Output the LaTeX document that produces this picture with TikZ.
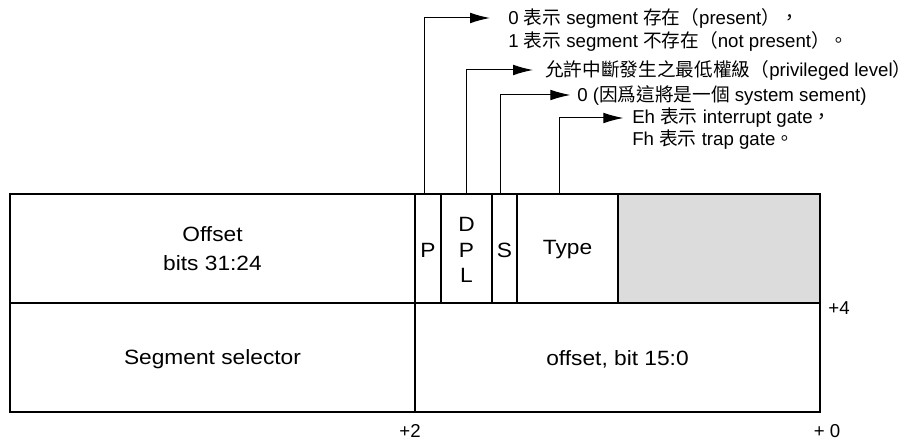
\documentclass[tikz,border=0pt]{standalone}
\usepackage{fontspec}
\setmainfont{Liberation Sans}
\newfontfamily\boxfont[FakeStretch=1.1]{Liberation Sans}
\newfontfamily\cjkfont{Noto Sans CJK TC}
\newcommand{\tc}[1]{{\cjkfont #1}}
\usetikzlibrary{arrows.meta,fit,calc}
\definecolor{rsvgray}{HTML}{DCDCDC}

\begin{document}
\begin{tikzpicture}[x=0.75pt,y=-0.75pt,
  field/.style={draw, line width=1.3pt, inner sep=0pt, outer sep=0pt},
  lowfield/.style={draw, line width=1.05pt, inner sep=0pt, outer sep=0pt},
  fieldtext/.style={inner sep=0pt, align=center,
    font=\boxfont\fontsize{15.5pt}{19pt}\selectfont},
  note/.style={anchor=west, inner sep=0pt, font=\fontsize{14pt}{16pt}\selectfont},
  offlabel/.style={inner sep=0pt, font=\fontsize{14pt}{16pt}\selectfont},
  conn/.style={line width=0.75pt, -{Latex[length=15pt,width=8pt]}}]
\useasboundingbox (0,0) rectangle (922,441);

% lower word: selector and low offset
\node[lowfield, fit={(10,303)(415,412)}] (sel) {};
\node[lowfield, fit={(415,303)(820,412)}] (low) {};
\node[fieldtext] at ($(sel.center)+(0,2)$) {Segment selector};
\node[fieldtext] at ($(low.center)+(0,2)$) {offset, bit 15:0};

% upper word: high offset and attribute fields
\node[field, fit={(10,194)(415,303)}] (off) {};
\node[field, fill=rsvgray, fit={(618,194)(820,303)}] (rsv) {};
\node[field, fit={(415,194)(441,303)}] (p) {};
\node[field, fit={(441,194)(492,303)}] (dpl) {};
\node[field, fit={(492,194)(517,303)}] (s) {};
\node[field, fit={(517,194)(618,303)}] (type) {};
\draw[line width=1.6pt] (off.south west) -- (rsv.south east);

\node[fieldtext] at ($(off.center)+(0,0)$) {Offset\\[3pt]bits 31:24};
\node[fieldtext] at ($(p.center)+(0,1.5)$) {P};
\node[fieldtext] at ($(dpl.center)+(0,1.5)$) {D\\P\\L};
\node[fieldtext] at ($(s.center)+(0,1.5)$) {S};
\node[fieldtext] at ($(type.center)+(0,1.5)$) {Type};

% byte offsets
\node[offlabel] (o4) at (839,308) {+4};
\node[offlabel] (o2) at (410,431) {+2};
\node[offlabel] (o0) at (827,431) {+ 0};

% field descriptions
\node[note] (t1) at (508,18) {0 \tc{表示} segment \tc{存在（}present\tc{）}\tc{，}};
\node[note] (t2) at (508,41) {1 \tc{表示} segment \tc{不存在（}not present\tc{）}\tc{。}};
\node[note] (t3) at (545,70) {\tc{允許中斷發生之最低權級（}privileged level\tc{）}};
\node[note] (t4) at (577,95) {0 (\tc{因爲這將是一個} system sement)};
\node[note] (t5) at (632,118) {Eh \tc{表示} interrupt gate\tc{，}};
\node[note] (t6) at (632,140) {Fh \tc{表示} trap gate\tc{。}};

% connectors from fields to descriptions
\draw[conn, shorten >=13.5pt] ($(p.north)+(-4,0)$) |- (t1.west);
\draw[conn, shorten >=9pt] (dpl.north) |- (t3.west);
\draw[conn, shorten >=5pt] ($(s.north)+(-4.5,0)$) |- (t4.west);
\draw[conn, shorten >=6.5pt] ($(type.north)+(-8.5,0)$) |- (t5.west);
\end{tikzpicture}
\end{document}
